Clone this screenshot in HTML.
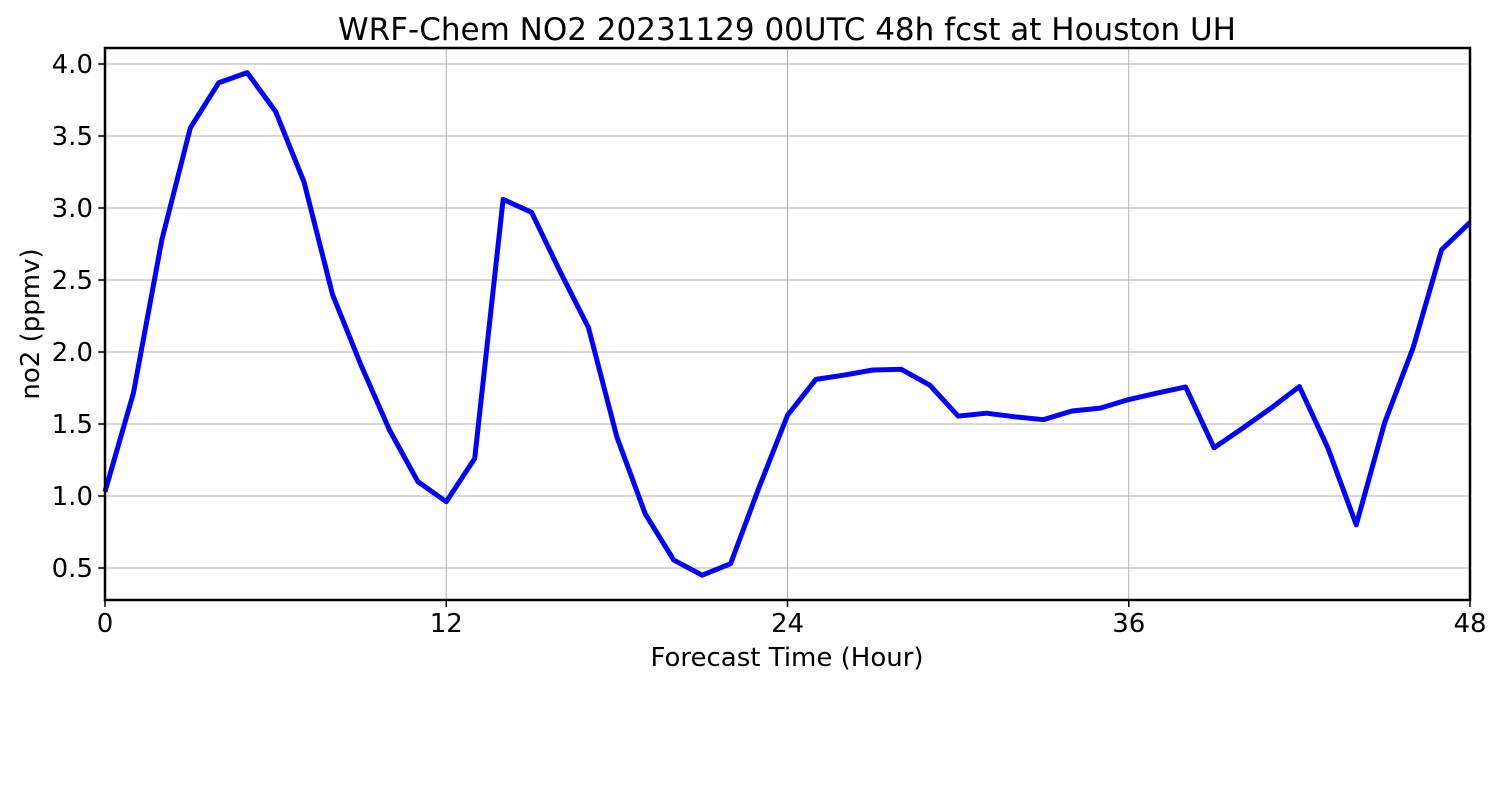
<!DOCTYPE html>
<html><head><meta charset="utf-8"><style>
body{margin:0;background:#fff;}
svg text{font-family:"DejaVu Sans","Liberation Sans",sans-serif;fill:#000;}
</style></head><body>
<svg id="chart" width="1500" height="800">
<text x="787" y="40" font-size="31" text-anchor="middle">WRF-Chem NO2  20231129 00UTC 48h fcst at Houston UH</text>
<g id="grid"></g><g id="xt"></g><g id="yt"></g>
<polyline id="line" fill="none" stroke="#0000ff" stroke-width="5" stroke-linejoin="round"/>
<rect x="105" y="48" width="1365" height="552" fill="none" stroke="#000" stroke-width="2.5"/>
<text x="787" y="666" font-size="26" text-anchor="middle">Forecast Time (Hour)</text>
<text transform="translate(39,324) rotate(-90)" font-size="26" text-anchor="middle">no2  (ppmv)</text>
</svg>
<script>
const hours=[0,1,2,3,4,5,6,7,8,9,10,11,12,13,14,15,16,17,18,19,20,21,22,23,24,25,26,27,28,29,30,31,32,33,34,35,36,37,38,39,40,41,42,43,44,45,46,47,48];
const no2=[1.03,1.715,2.78,3.556,3.87,3.94,3.67,3.18,2.40,1.91,1.46,1.10,0.96,1.26,3.06,2.97,2.56,2.17,1.41,0.875,0.555,0.45,0.53,1.06,1.56,1.81,1.84,1.875,1.88,1.77,1.555,1.575,1.55,1.53,1.59,1.61,1.67,1.715,1.757,1.335,1.47,1.61,1.76,1.335,0.80,1.51,2.03,2.71,2.90];
const xTicks=[0,12,24,36,48];
const yTicks=[0.5,1.0,1.5,2.0,2.5,3.0,3.5,4.0];
const NS="http://www.w3.org/2000/svg";
function X(h){return 105+(h-0)/48*1365;}
function Y(v){return 568-(v-0.5)*144;}
function mk(tag,attrs,parent){const e=document.createElementNS(NS,tag);for(const k in attrs)e.setAttribute(k,attrs[k]);document.getElementById(parent).appendChild(e);return e;}
xTicks.forEach(t=>{
  const g=mk('line',{x1:X(t),x2:X(t),y1:48,y2:600,stroke:'#b0b0b0','stroke-width':1},'grid');
  
  
  const tk=mk('line',{x1:X(t),x2:X(t),y1:600,y2:607,stroke:'#000','stroke-width':1.5},'xt');
  
  
  const tx=mk('text',{x:X(t),y:632,'font-size':26,'text-anchor':'middle'},'xt');
  tx.textContent=t;
  
  
});
yTicks.forEach(t=>{
  const g=mk('line',{x1:105,x2:1470,y1:Y(t),y2:Y(t),stroke:'#b0b0b0','stroke-width':1},'grid');
  
  
  const tk=mk('line',{x1:98,x2:105,y1:Y(t),y2:Y(t),stroke:'#000','stroke-width':1.5},'yt');
  
  
  const tx=mk('text',{x:93,y:Y(t)+9,'font-size':26,'text-anchor':'end'},'yt');
  tx.textContent=t.toFixed(1);
  
  
});
document.getElementById('line').setAttribute('points',hours.map((h,i)=>X(h)+','+Y(no2[i])).join(' '));
</script>
</body></html>
